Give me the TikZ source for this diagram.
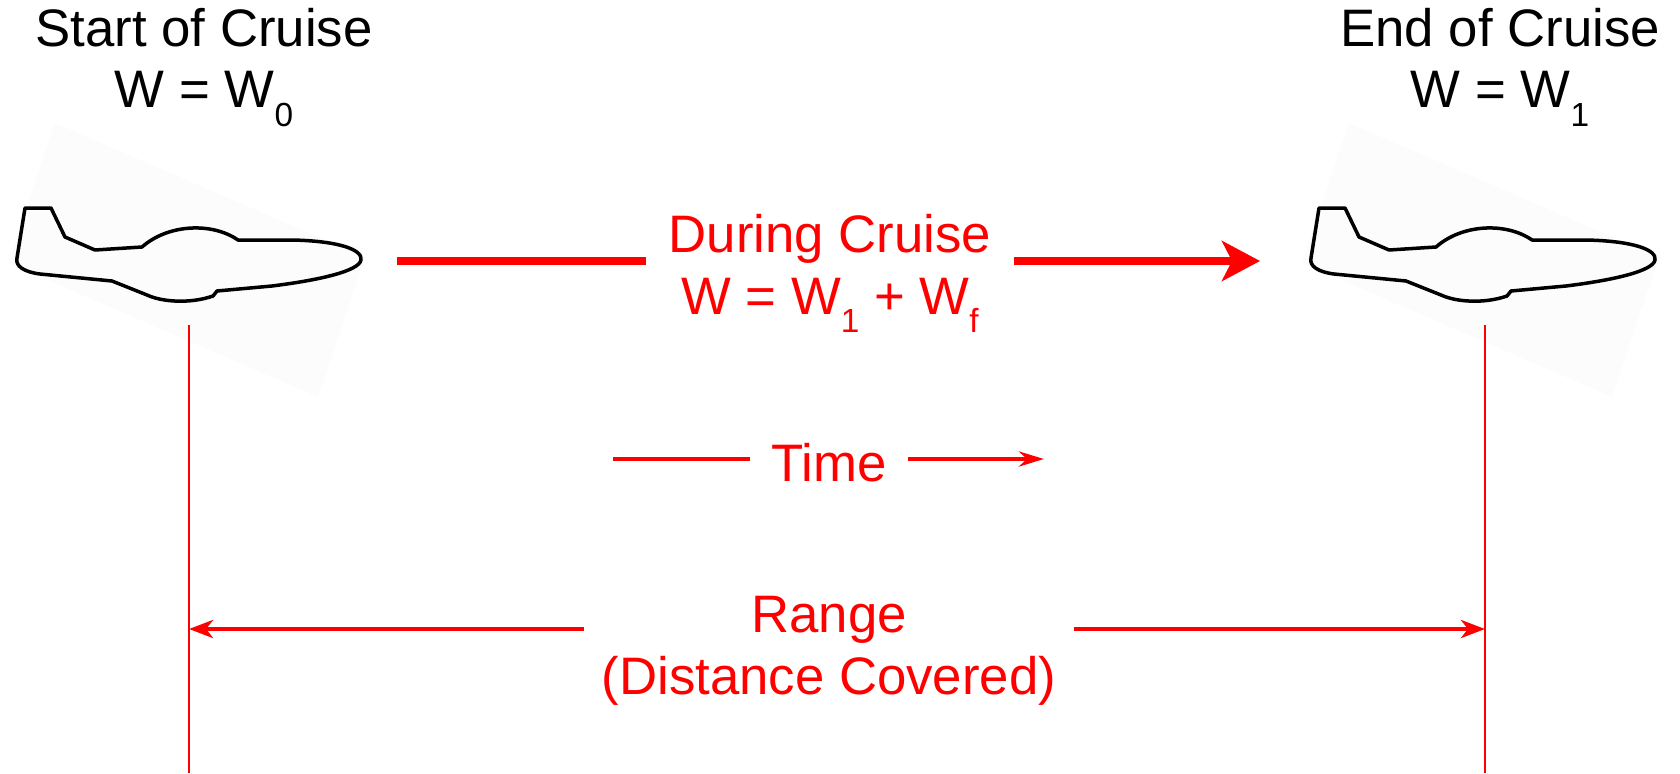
\documentclass[tikz,border=0pt]{standalone}
\usepackage{fontspec}
\setmainfont{Liberation Sans}
\usetikzlibrary{arrows.meta}

\newcommand{\wsub}[1]{\raisebox{-0.18cm}{\fontsize{9.5pt}{10pt}\selectfont #1}}

\begin{document}
\begin{tikzpicture}[x=0.01cm, y=-0.01cm,
  every node/.style={font=\fontsize{15pt}{17.6pt}\selectfont, inner sep=0pt, align=center, anchor=base},
  plane/.style={black, line width=0.035cm, line join=round},
  haze/.style={fill=black!1.2, draw=none},
  drop/.style={red, line width=0.02cm},
  cruise/.style={red, line width=0.073cm},
  timeline/.style={red, line width=0.045cm},
  rangeline/.style={red, line width=0.045cm, -{Stealth[length=0.24cm, width=0.18cm, inset=0.07cm]}}]

\useasboundingbox (0,0) rectangle (1680,773);

% the two planes, same outline shifted
\foreach \dx in {0,1294} {
  \fill[haze, shift={(\dx,0)}] (55,123) -- (365,257) -- (318,397) -- (8,263) -- cycle;
  \draw[plane, shift={(\dx,0)}] (17,258) -- (25,208) -- (51,208) -- (65,237) -- (95,250) -- (142,247)
    .. controls (168,224) and (212,222) .. (238,240)
    -- (292,240) .. controls (340,241) and (363,250) .. (361,260)
    .. controls (359,271) and (320,280) .. (272,286) -- (217,291) -- (213,296)
    .. controls (190,304) and (162,302) .. (147,295) -- (112,281) -- (40,274)
    .. controls (24,272) and (15,266) .. (17,258) -- cycle;
}

% base anchor sits on the last line
\node (start) at (204,108) {Start of Cruise\\W = W\wsub{0}};
\node (end) at (1500,108) {End of Cruise\\W = W\wsub{1}};

\coordinate (s0) at (189,325);
\coordinate (s1) at (189,773);
\coordinate (e0) at (1485,325);
\coordinate (e1) at (1485,773);
\draw[drop] (s0) -- (s1);
\draw[drop] (e0) -- (e1);

% during cruise
\node[red, inner xsep=0.22cm] (during) at (830,314) {During Cruise\\W = W\wsub{1} + W\wsub{f}};
\coordinate (c0) at (397,261);
\coordinate (c1) at (1260,261);
\draw[cruise] (c0) -- (during.west |- c0);
\draw[cruise, -{Stealth[length=0.38cm, width=0.40cm, inset=0.1cm]}] (during.east |- c1) -- (c1);

% time
\node[red, inner xsep=0.21cm] (time) at (829,481) {Time};
\coordinate (t0) at (613,459);
\coordinate (t1) at (1044,459);
\draw[timeline] (t0) -- (time.west |- t0);
\draw[timeline, -{Stealth[length=0.25cm, width=0.15cm, inset=0.08cm]}] (time.east |- t1) -- (t1);

% range between the two drop lines
\node[red, inner xsep=0.17cm] (range) at (829,694) {Range\\(Distance Covered)};
\coordinate (r0) at (s0 |- 0,629);
\coordinate (r1) at (e0 |- 0,629);
\draw[rangeline] (range.west |- r0) -- (r0);
\draw[rangeline] (range.east |- r1) -- (r1);

\end{tikzpicture}
\end{document}
